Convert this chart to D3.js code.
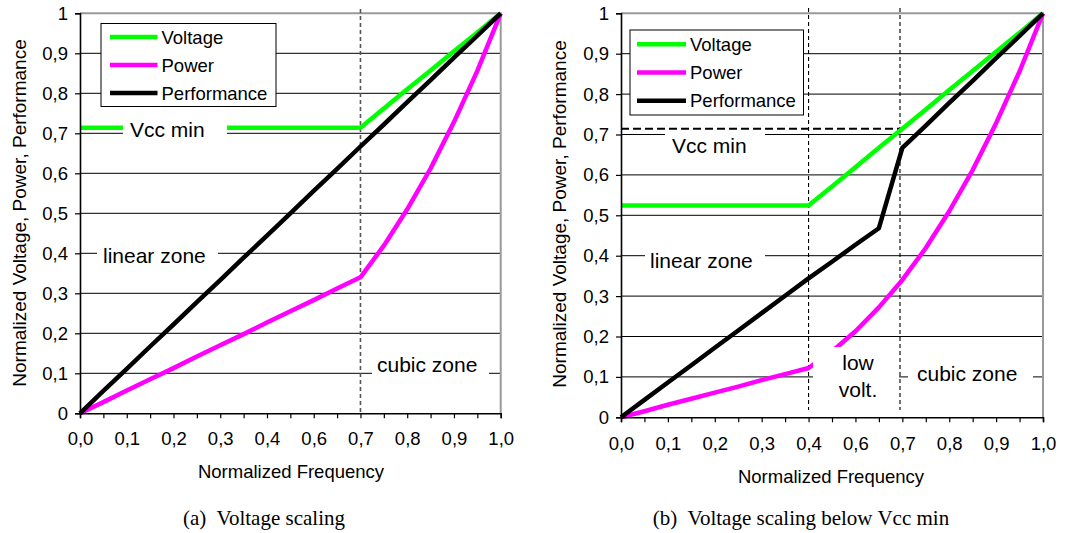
<!DOCTYPE html>
<html>
<head>
<meta charset="utf-8">
<script src="https://cdn.jsdelivr.net/npm/d3@7/dist/d3.min.js"></script>
<style>
  body { margin: 0; background: #fff; }
  svg text { font-family: "Liberation Sans", Arial, sans-serif; fill: #000; }
  .tick text { font-size: 18.5px; }
</style>
</head>
<body>
<svg id="chart" width="1065" height="533"></svg>
<script>
// 19 points on the frequency axis, labelled every other one (the original axis skips 0,5)
const tickLabels = ['0,0', '0,1', '0,2', '0,3', '0,4', '0,6', '0,7', '0,8', '0,9', '1,0'];
const yTicks = [0, 0.1, 0.2, 0.3, 0.4, 0.5, 0.6, 0.7, 0.8, 0.9, 1];
const yTickLabels = ['0', '0,1', '0,2', '0,3', '0,4', '0,5', '0,6', '0,7', '0,8', '0,9', '1'];
const seriesNames = ['Voltage', 'Power', 'Performance'];
const seriesColors = ['#00ff00', '#ff00ff', '#000000'];

// (a) Voltage scaling
const voltageA = [0.714, 0.714, 0.714, 0.714, 0.714, 0.714, 0.714, 0.714, 0.714, 0.714,
                  0.714, 0.714, 0.714, 0.762, 0.810, 0.857, 0.905, 0.952, 1.0];
const powerA = [0, 0.028, 0.057, 0.085, 0.113, 0.142, 0.170, 0.198, 0.227, 0.255,
                0.283, 0.312, 0.340, 0.419, 0.510, 0.612, 0.728, 0.856, 1.0];
const performanceA = [0, 0.056, 0.111, 0.167, 0.222, 0.278, 0.333, 0.389, 0.444, 0.5,
                      0.556, 0.611, 0.667, 0.722, 0.778, 0.833, 0.889, 0.944, 1.0];

// (b) Voltage scaling below Vcc min
const voltageB = [0.524, 0.524, 0.524, 0.524, 0.524, 0.524, 0.524, 0.524, 0.524, 0.571,
                  0.619, 0.667, 0.714, 0.762, 0.810, 0.857, 0.905, 0.952, 1.0];
const powerB = [0, 0.015, 0.031, 0.046, 0.061, 0.076, 0.092, 0.107, 0.122, 0.163,
                0.213, 0.272, 0.340, 0.419, 0.510, 0.612, 0.728, 0.856, 1.0];
const performanceB = [0, 0.043, 0.086, 0.129, 0.172, 0.215, 0.258, 0.301, 0.344, 0.385,
                      0.427, 0.468, 0.667, 0.722, 0.778, 0.833, 0.889, 0.944, 1.0];

const vccMin = 0.714;

const svg = d3.select('#chart');

function drawPanel(p) {
    const x = d3.scaleLinear().domain([0, 18]).range([p.x0, p.x1]);
    const y = d3.scaleLinear().domain([0, 1]).range([p.y0, p.y1]);
    const g = svg.append('g');

    // grid lines
    g.append('g').selectAll('line')
        .data(yTicks.filter(v => v > 0 && v < 1))
        .enter().append('line')
        .attr('x1', p.x0).attr('x2', p.x1)
        .attr('y1', d => y(d)).attr('y2', d => y(d))
        .attr('stroke', '#000').attr('stroke-width', 1);

    // plot area border (top + right, grey)
    g.append('path')
        .attr('d', `M${p.x0},${y(1)}H${p.x1}V${p.y0}`)
        .attr('fill', 'none').attr('stroke', '#999').attr('stroke-width', 2);

    // zone separators
    p.vlines.forEach(v => {
        g.append('line')
            .attr('x1', x(v)).attr('x2', x(v))
            .attr('y1', p.vTop).attr('y2', p.vBottom)
            .attr('stroke', p.vColor).attr('stroke-width', p.vWidth)
            .attr('stroke-dasharray', p.vDash);
    });

    if (p.vccDash) {
        g.append('line')
            .attr('x1', p.x0).attr('x2', x(p.vccDash))
            .attr('y1', y(vccMin)).attr('y2', y(vccMin))
            .attr('stroke', '#000').attr('stroke-width', 2)
            .attr('stroke-dasharray', '8,4');
    }

    // series
    const line = d3.line().x((d, i) => x(i)).y(d => y(d));
    p.series.forEach((s, k) => {
        g.append('path')
            .datum(s)
            .attr('d', line)
            .attr('fill', 'none')
            .attr('stroke', seriesColors[k])
            .attr('stroke-width', 4.5)
            .attr('stroke-linejoin', 'round');
    });

    // text labels with white boxes
    p.labels.forEach(l => {
        g.append('rect')
            .attr('x', l.box[0]).attr('y', l.box[1])
            .attr('width', l.box[2] - l.box[0]).attr('height', l.box[3] - l.box[1])
            .attr('fill', '#fff');
        l.lines.forEach((t, i) => {
            g.append('text')
                .attr('x', l.x).attr('y', l.y + i * 27)
                .attr('text-anchor', l.anchor || 'start')
                .attr('font-size', 21)
                .text(t);
        });
    });

    // legend
    const lg = g.append('g');
    lg.append('rect')
        .attr('x', p.legend.x).attr('y', p.legend.y)
        .attr('width', p.legend.w).attr('height', p.legend.h)
        .attr('fill', '#fff').attr('stroke', '#000').attr('stroke-width', 1);
    seriesNames.forEach((name, k) => {
        const cy = p.legend.row0 + k * p.legend.rowH;
        lg.append('line')
            .attr('x1', p.legend.lx0).attr('x2', p.legend.lx1)
            .attr('y1', cy).attr('y2', cy)
            .attr('stroke', seriesColors[k]).attr('stroke-width', 4.5);
        lg.append('text')
            .attr('x', p.legend.lx1 + 4).attr('y', cy + 6.5)
            .attr('font-size', 18.5)
            .text(name);
    });

    // axes
    const yAxis = g.append('g')
        .attr('transform', `translate(${p.x0},0)`)
        .call(d3.axisLeft(y).tickValues(yTicks)
            .tickFormat((d, i) => yTickLabels[i]).tickSize(5).tickPadding(7));
    const xAxis = g.append('g')
        .attr('transform', `translate(0,${p.y0})`)
        .call(d3.axisBottom(x).tickValues(d3.range(19))
            .tickFormat(i => i % 2 === 0 ? tickLabels[i / 2] : '').tickSize(5).tickPadding(p.xPad));
    [yAxis, xAxis].forEach(a => {
        a.attr('font-family', null).attr('font-size', null);
        a.selectAll('text').attr('fill', '#000');
        a.selectAll('line').attr('stroke', '#000').attr('stroke-width', 1.2);
        a.select('.domain').attr('stroke', '#000').attr('stroke-width', 1.6);
    });

    // axis titles and caption
    g.append('text')
        .attr('transform', `translate(${p.yTitleX},${p.yTitleY}) rotate(-90)`)
        .attr('text-anchor', 'middle').attr('font-size', 19)
        .text('Normalized Voltage, Power, Performance');
    g.append('text')
        .attr('x', p.xTitleX).attr('y', p.xTitleY)
        .attr('text-anchor', 'middle').attr('font-size', 18.5)
        .text('Normalized Frequency');
    g.append('text')
        .attr('x', p.captionX).attr('y', 525)
        .attr('text-anchor', 'middle')
        .attr('font-size', 21)
        .style('font-family', '"Liberation Serif", "Times New Roman", serif')
        .style('white-space', 'pre')
        .text(p.caption);
}

drawPanel({
    x0: 80, x1: 500.7, y0: 413.3, y1: 13.3,
    series: [voltageA, powerA, performanceA],
    vlines: [12], vTop: 9, vBottom: 413, vColor: '#555', vWidth: 1.6, vDash: '4,3',
    vccDash: null,
    labels: [
        { box: [123, 118, 227, 146], x: 130, y: 137, lines: ['Vcc min'] },
        { box: [97, 242, 218, 270], x: 103, y: 263, lines: ['linear zone'] },
        { box: [372, 354, 489, 386], x: 377, y: 372, lines: ['cubic zone'] }
    ],
    legend: { x: 101, y: 23.5, w: 175, h: 83, lx0: 110, lx1: 157.5, row0: 37, rowH: 28 },
    xPad: 14, yTitleX: 26, yTitleY: 213, xTitleX: 291, xTitleY: 478,
    captionX: 264, caption: '(a)  Voltage scaling'
});

drawPanel({
    x0: 621, x1: 1043, y0: 417.3, y1: 13.3,
    series: [voltageB, powerB, performanceB],
    vlines: [8, 11.9], vTop: 8, vBottom: 410, vColor: '#000', vWidth: 1.1, vDash: '4,3',
    vccDash: 11.9,
    labels: [
        { box: [665, 132, 765, 160], x: 672, y: 153, lines: ['Vcc min'] },
        { box: [645, 245, 765, 273], x: 650, y: 268, lines: ['linear zone'] },
        { box: [813, 347, 899, 409], x: 858, y: 370, anchor: 'middle', lines: ['low', 'volt.'] },
        { box: [908, 361, 1033, 390], x: 917, y: 380.5, lines: ['cubic zone'] }
    ],
    legend: { x: 630, y: 30, w: 173.5, h: 85, lx0: 637, lx1: 686, row0: 44.3, rowH: 28.2 },
    xPad: 15, yTitleX: 566, yTitleY: 214, xTitleX: 831, xTitleY: 483,
    captionX: 801, caption: '(b)  Voltage scaling below Vcc min'
});
</script>
</body>
</html>
